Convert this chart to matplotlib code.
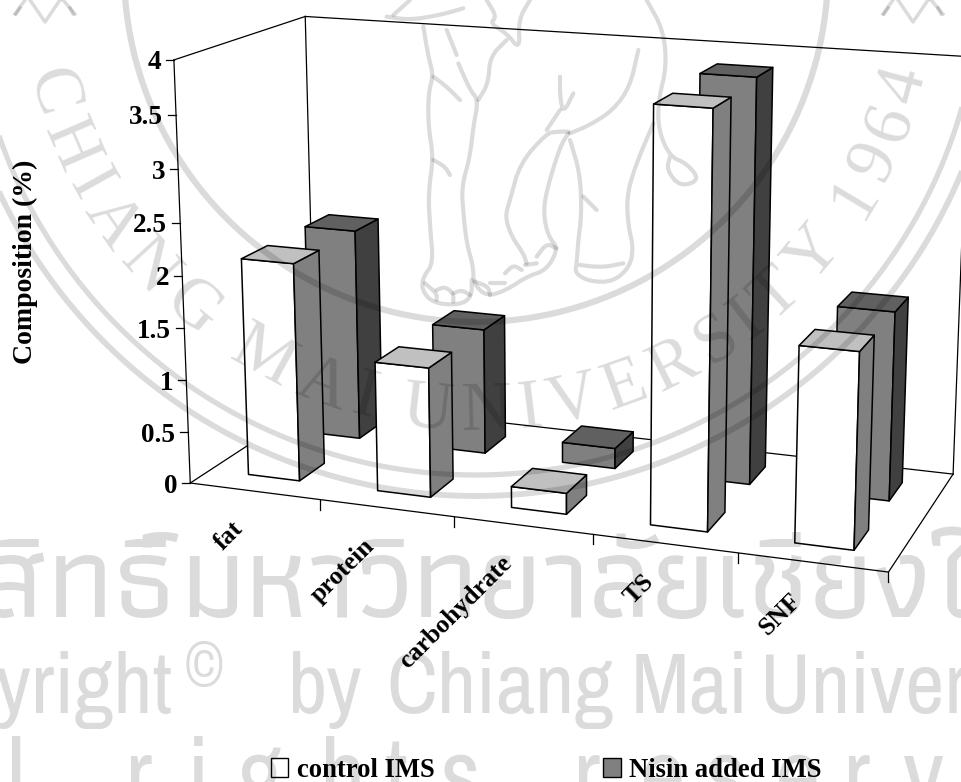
"""
3D column chart of IMS composition, with the university watermark over it.
Drawn on a flat axes in pixel units, through a fitted camera projection.
"""

import numpy as np
import matplotlib
matplotlib.use('Agg')
import matplotlib.pyplot as plt
from matplotlib.font_manager import FontProperties
from matplotlib.textpath import text_to_path

categories = ['fat', 'protein', 'carbohydrate', 'TS', 'SNF']
control_ims = [2.1, 1.24, 0.2, 3.82, 1.8]
nisin_ims = [2.1, 1.24, 0.2, 3.86, 1.8]
series_names = ['control IMS', 'Nisin added IMS']
value_ticks = [0, 0.5, 1, 1.5, 2, 2.5, 3, 3.5, 4]
value_tick_labels = ['0', '0.5', '1', '1.5', '2', '2.5', '3', '3.5', '4']

SERIF = 'Liberation Serif'
NARROW = ['Liberation Sans Narrow', 'Archivo Narrow', 'PT Sans Narrow', 'Roboto Condensed', 'Liberation Sans']
THAI = ['Athiti', 'Noto Sans Thai Looped', 'Noto Serif Thai', 'FreeSerif', 'DejaVu Sans']
WM = dict(color='black', alpha=0.14, zorder=20)

# Frame corners as seen in the picture: (category, depth, value) -> pixel
FRAME_WORLD = [(0, 0, 0), (5, 0, 0), (5, 1, 0), (0, 1, 0), (0, 0, 4), (0, 1, 4), (5, 1, 4),
               (1, 0, 0), (2, 0, 0), (3, 0, 0), (4, 0, 0), (0, 0, 2), (0, 0, 3), (0, 0, 1)]
FRAME_PIXEL = [(190, 483), (888.7, 572.7), (953, 473.3), (316, 402), (175, 60), (304.3, 16.3), (969, 57),
               (320, 500), (454, 516.5), (592.5, 534), (738, 553), (182, 275.7), (178, 169), (186, 380)]


def fit_camera(world, pixel):
    """Least squares fit of a 3x4 projection matrix."""
    rows, rhs = [], []
    for (x, y, z), (u, v) in zip(world, pixel):
        rows.append([x, y, z, 1, 0, 0, 0, 0, -u*x, -u*y, -u*z])
        rows.append([0, 0, 0, 0, x, y, z, 1, -v*x, -v*y, -v*z])
        rhs += [u, v]
    p = np.linalg.lstsq(np.array(rows, float), np.array(rhs, float), rcond=None)[0]
    return np.append(p, 1).reshape(3, 4)


CAM = fit_camera(FRAME_WORLD, FRAME_PIXEL)


def project(x, y, z):
    u, v, w = CAM @ np.array([x, y, z, 1.0])
    return u / w, v / w


def draw_line(ax, a, b, lw=0.9, zorder=1):
    pa, pb = project(*a), project(*b)
    ax.plot([pa[0], pb[0]], [pa[1], pb[1]], color='black', lw=lw, zorder=zorder,
            solid_capstyle='projecting')


def draw_bar(ax, x0, x1, y0, y1, value, colors, zorder):
    """Front, right side and top face of one column."""
    front, top, side = colors
    faces = [
        ([(x0, y0, 0), (x1, y0, 0), (x1, y0, value), (x0, y0, value)], front),
        ([(x1, y0, 0), (x1, y1, 0), (x1, y1, value), (x1, y0, value)], side),
        ([(x0, y0, value), (x1, y0, value), (x1, y1, value), (x0, y1, value)], top),
    ]
    for corners, color in faces:
        pts = [project(*c) for c in corners]
        ax.fill(*zip(*pts), facecolor=color, edgecolor='black', lw=1.1, zorder=zorder,
                joinstyle='round')


def draw_frame(ax):
    for a, b in [((0, 0, 0), (5, 0, 0)), ((5, 0, 0), (5, 1, 0)), ((5, 1, 0), (0, 1, 0)),
                 ((0, 1, 0), (0, 0, 0)), ((0, 0, 0), (0, 0, 4)), ((0, 0, 4), (0, 1, 4)),
                 ((0, 1, 4), (0, 1, 0)), ((0, 1, 4), (5, 1, 4)), ((5, 1, 4), (5, 1, 0))]:
        draw_line(ax, a, b)

    for tick, label in zip(value_ticks, value_tick_labels):
        x, y = project(0, 0, tick)
        ax.plot([x - 8, x], [y, y], color='black', lw=0.9, zorder=1)
        ax.text(x - 13, y + 3, label, ha='right', va='center', fontsize=19.5,
                fontweight='bold', family=SERIF, zorder=5)

    for i in range(1, len(categories) + 1):
        x, y = project(i, 0, 0)
        ax.plot([x, x], [y, y + 10], color='black', lw=0.9, zorder=1)

    for i, name in enumerate(categories):
        x, y = project(i + 0.5, 0, 0)
        ax.text(x - 7, y + 26, name, rotation=45, ha='right', va='top', fontsize=18.5,
                fontweight='bold', family=SERIF, zorder=5)


def draw_bars(ax):
    gap = 0.3
    back = ('#808080', '#606060', '#404040')
    front = ('#ffffff', '#c0c0c0', '#808080')
    for i, value in enumerate(nisin_ims):
        draw_bar(ax, i + gap, i + 1 - gap, 0.65, 0.85, value, back, 2)
    for i, value in enumerate(control_ims):
        draw_bar(ax, i + gap, i + 1 - gap, 0.15, 0.35, value, front, 3)


def draw_legend(ax):
    ax.add_patch(plt.Rectangle((271, 758), 17, 19, facecolor='white', edgecolor='black', lw=1, zorder=5))
    ax.add_patch(plt.Rectangle((603, 758), 18, 19, facecolor='#808080', edgecolor='black', lw=1, zorder=5))
    ax.text(297, 777, series_names[0], ha='left', va='baseline', fontsize=19.2, fontweight='bold',
            family=SERIF, zorder=5)
    ax.text(629, 777, series_names[1], ha='left', va='baseline', fontsize=19.2, fontweight='bold',
            family=SERIF, zorder=5)


def smooth(points, rounds=2):
    """Corner cutting, keeps the end points."""
    pts = np.array(points, float)
    for _ in range(rounds):
        q = 0.75*pts[:-1] + 0.25*pts[1:]
        r = 0.25*pts[:-1] + 0.75*pts[1:]
        mid = np.empty((2*len(q), 2))
        mid[0::2], mid[1::2] = q, r
        pts = np.vstack([pts[0], mid, pts[-1]])
    return pts


def elephant_strokes():
    """Rough trace of the seal elephant, in pixels of a 3x crop at (330, 0)."""
    strokes = [
        [(280, 80), (295, 170), (310, 225), (295, 280), (295, 380), (310, 470), (295, 580), (300, 680),
         (310, 790), (280, 830), (275, 870), (310, 910), (390, 915), (425, 890), (425, 840)],
        [(385, 190), (420, 270), (445, 300), (430, 380), (420, 470), (395, 560), (400, 640), (410, 730),
         (430, 800), (430, 850), (470, 890), (530, 870), (590, 830), (650, 810), (685, 745), (655, 710),
         (640, 640), (650, 570), (690, 440), (715, 400)],
        [(445, 300), (475, 250), (480, 170), (530, 120)],
        [(715, 395), (680, 395), (650, 400), (570, 490), (540, 600), (525, 650), (545, 710), (580, 760),
         (590, 790)],
        [(720, 420), (750, 520), (755, 640), (745, 720), (740, 790), (735, 820), (780, 845), (850, 845),
         (900, 800), (910, 740), (895, 680), (890, 590), (915, 500), (970, 370)],
        [(720, 400), (780, 375), (850, 330), (900, 260), (925, 150)],
        [(170, 50), (240, 60), (330, 45), (400, 25)],
        [(240, 0), (190, 45)],
        [(470, 0), (500, 50), (480, 70), (530, 100), (570, 150), (565, 60), (600, 0)],
        [(285, 850), (320, 880), (320, 900)], [(320, 870), (345, 860), (370, 880), (370, 905)],
        [(370, 880), (395, 870), (420, 885)], [(435, 845), (475, 860), (480, 885)],
        [(480, 850), (525, 850)], [(525, 820), (550, 795), (575, 810)],
        [(585, 795), (620, 790)], [(620, 770), (650, 730), (680, 745)],
        [(750, 795), (790, 800), (830, 800), (880, 790)],
        [(310, 230), (350, 260), (390, 300)], [(310, 480), (345, 500), (360, 525)],
        [(690, 230), (690, 290), (700, 340), (730, 280)], [(650, 390), (690, 330)],
        [(760, 590), (800, 630)], [(350, 90), (380, 165)],
        [(950, 0), (1000, 90), (1010, 200), (985, 300), (985, 390), (1020, 470), (1070, 490), (1110, 540),
         (1050, 560), (1010, 510), (1020, 470)],
    ]
    return [[(330 + x / 3, y / 3) for x, y in s] for s in strokes]


def draw_seal_text(ax, cx, cy, radius, text, start, end, size):
    """Letters along the lower arc, spaced by their real advance widths."""
    prop = FontProperties(family=SERIF, size=size)
    widths = [text_to_path.get_text_width_height_descent(ch, prop, False)[0] for ch in text]
    edges = np.cumsum([0] + widths)
    middles = (edges[:-1] + edges[1:]) / 2
    thetas = start + (end - start) * (middles - middles[0]) / (middles[-1] - middles[0])
    for ch, theta in zip(text, thetas):
        t = np.radians(theta)
        ax.text(cx + radius*np.sin(t), cy + radius*np.cos(t), ch, rotation=theta, rotation_mode='anchor',
                ha='center', va='center', fontsize=size, family=SERIF, **WM)


def draw_watermark(ax):
    cx, cy = 476, -30
    angles = np.radians(np.arange(0, 360, 1.0))
    for radius, width in [(352, 4.5), (505, 3.8), (526, 4.2)]:
        ax.plot(cx + radius*np.cos(angles), cy + radius*np.sin(angles), lw=width,
                solid_capstyle='butt', **WM)

    draw_seal_text(ax, cx, cy, 443, 'CHIANG MAI UNIVERSITY 1964', -74, 75, 50)

    for stroke in elephant_strokes():
        ax.plot(*smooth(stroke).T, lw=3, solid_joinstyle='round', solid_capstyle='round', **WM)

    # flower ornaments cut by the top edge
    for ox in (0, 868):
        for stroke in [[(15, 14), (25, 0)], [(75, 14), (63, 0)],
                       [(30, 0), (45, 22), (60, 0)], [(16, 14), (20, 8)], [(73, 14), (70, 8)]]:
            ax.plot(*zip(*[(ox + x, y) for x, y in stroke]), lw=2.5, **WM)

    ax.text(175, 617, 'ลิขสิทธิ์', ha='right', va='baseline', fontsize=84, fontweight='medium',
            family=THAI, **WM)
    ax.text(180, 617, 'มหาวิทยาลัยเชียงใหม่', ha='left', va='baseline', fontsize=84, fontweight='medium',
            family=THAI, **WM)

    ax.text(172, 713, 'Copyright', ha='right', va='baseline', fontsize=62, family=NARROW, **WM)
    ax.text(204, 668, '©', ha='center', va='center', fontsize=46, family=NARROW, **WM)
    for x, word in [(288, 'by'), (386, 'Chiang'), (631, 'Mai'), (760, 'University')]:
        ax.text(x, 713, word, ha='left', va='baseline', fontsize=62, family=NARROW, **WM)

    for x, ch in [(-50, 'A'), (7, 'l'), (125, 'r'), (187, 'i'), (237, 'g'), (320, 'h'), (385, 't'), (440, 's'),
                  (573, 'r'), (640, 'e'), (705, 's'), (775, 'e'), (843, 'r'), (903, 'v')]:
        ax.text(x, 809, ch, ha='left', va='baseline', fontsize=72, family=NARROW, **WM)


def main():
    fig = plt.figure(figsize=(9.61, 7.82), dpi=100, facecolor='white')
    ax = fig.add_axes([0, 0, 1, 1])
    ax.set_xlim(0, 961)
    ax.set_ylim(782, 0)
    ax.axis('off')

    draw_frame(ax)
    draw_bars(ax)
    draw_legend(ax)
    ax.text(25, 262, 'Composition (%)', rotation=90, ha='center', va='center', fontsize=20,
            fontweight='bold', family=SERIF, zorder=5)
    draw_watermark(ax)

    fig.savefig('out.png', dpi=100, facecolor='white')


if __name__ == "__main__":
    main()
